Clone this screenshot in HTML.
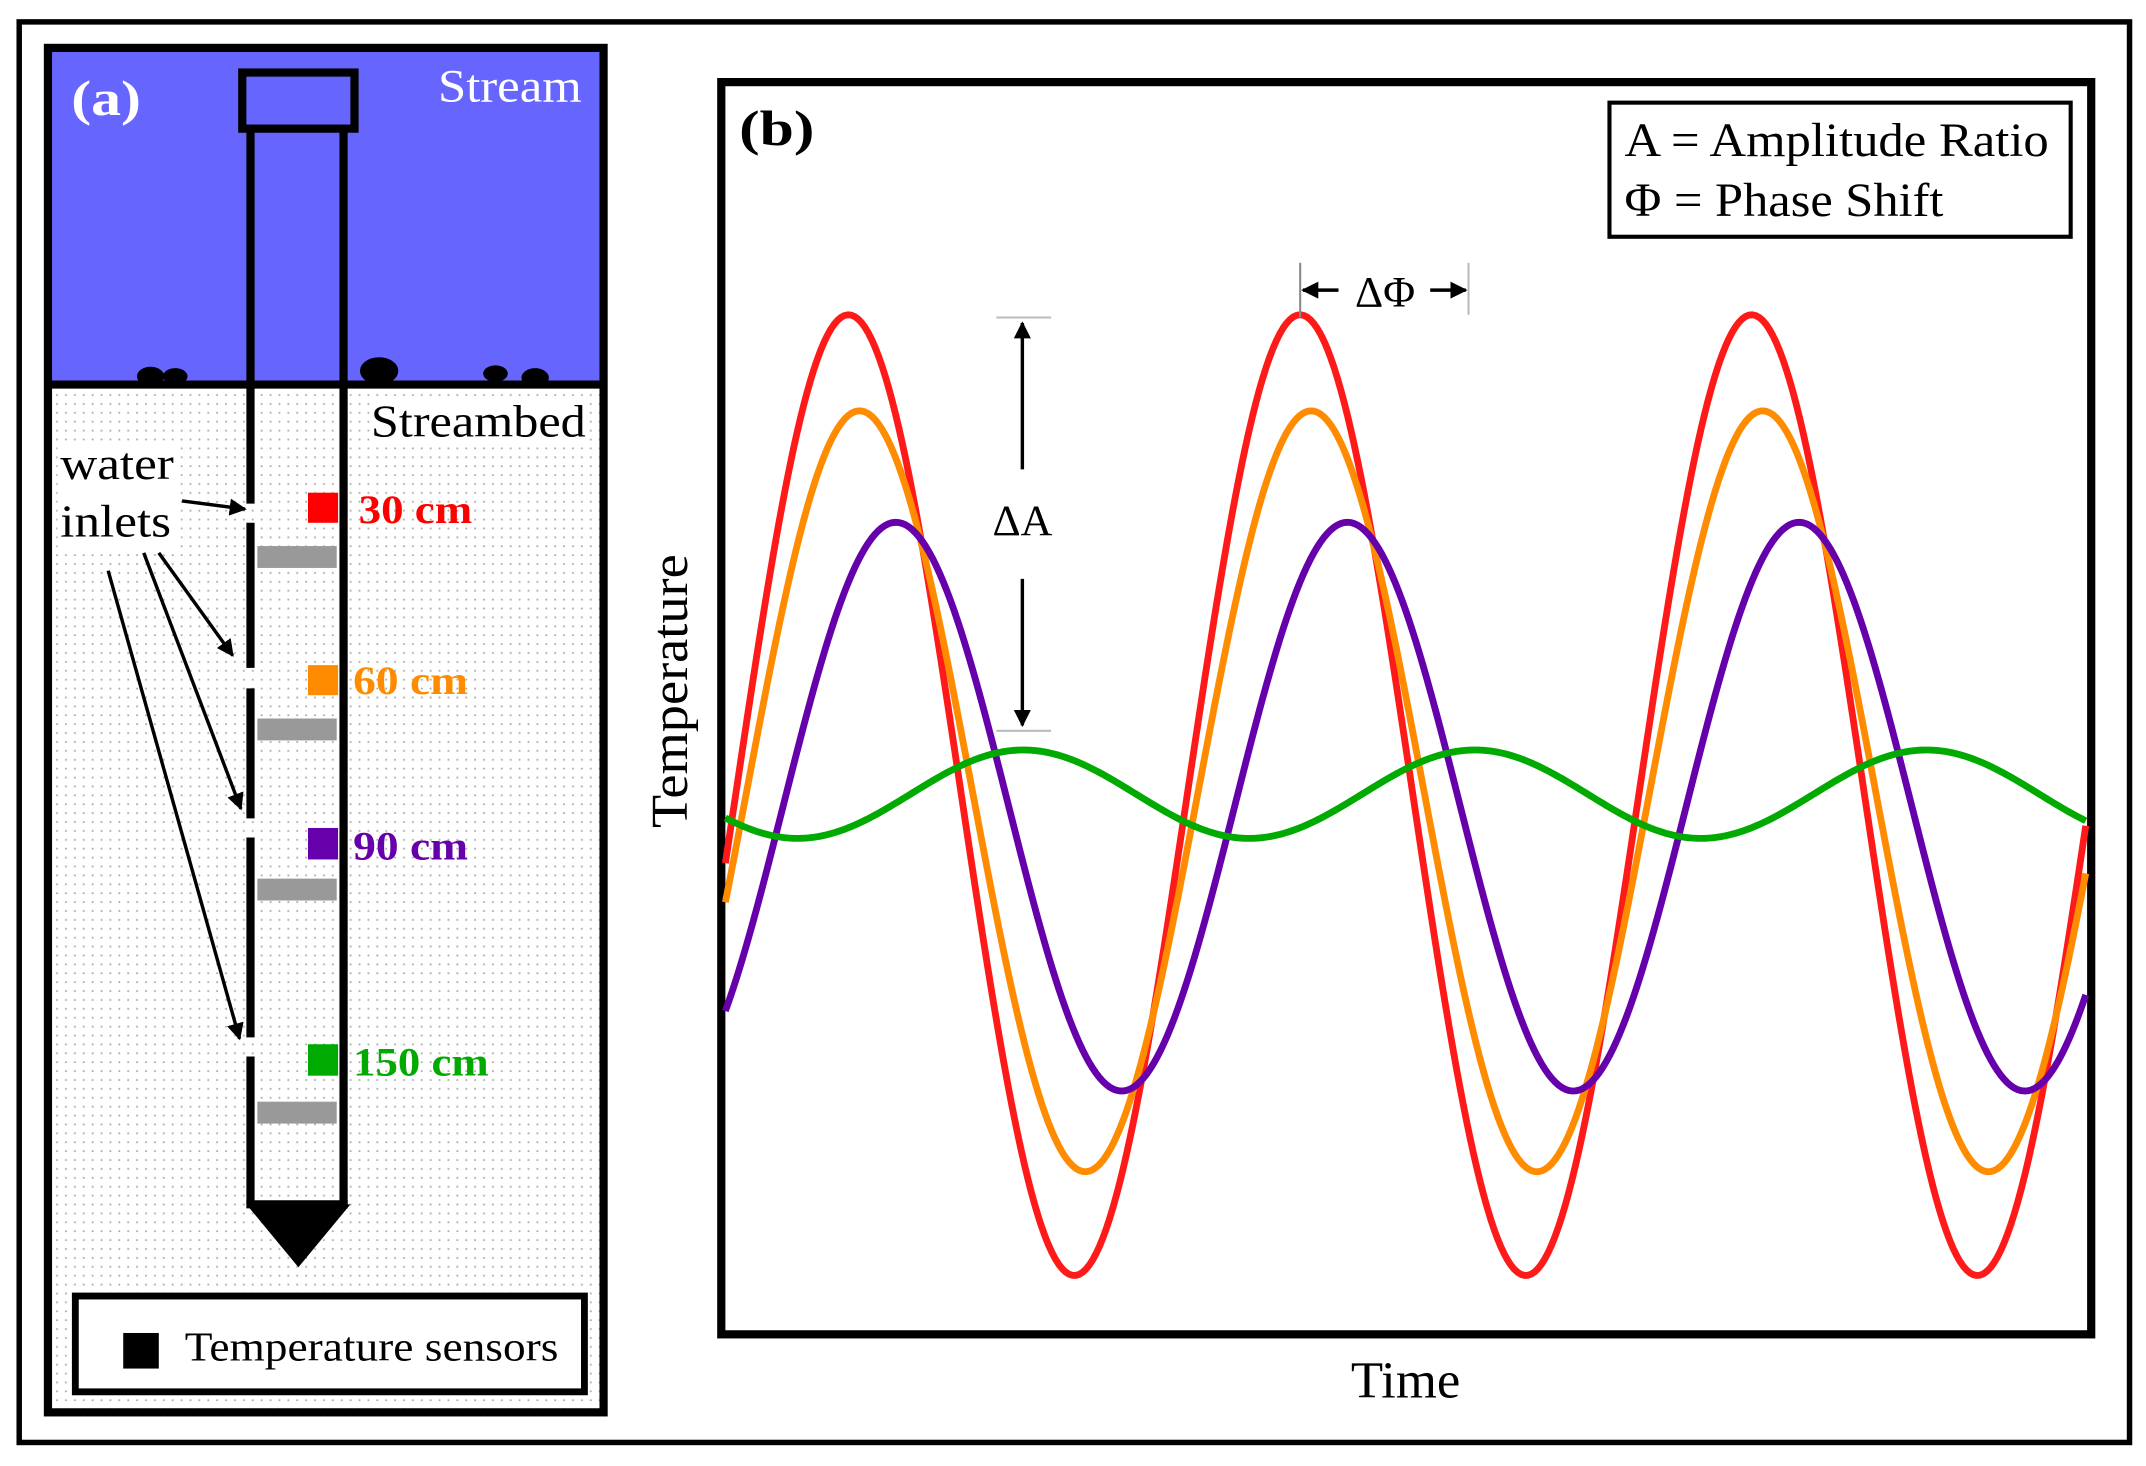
<!DOCTYPE html>
<html><head><meta charset="utf-8">
<style>
html,body{margin:0;padding:0;background:#fff;}
svg{display:block;}
text{font-family:"Liberation Serif",serif;}
</style></head>
<body>
<svg id="fig" width="2146" height="1466" viewBox="0 0 1568 1071.2" xmlns="http://www.w3.org/2000/svg">
<defs>
<pattern id="dots" width="6.5" height="6.5" patternUnits="userSpaceOnUse">
<rect width="6.5" height="6.5" fill="#fff"/>
<rect x="2" y="2" width="1.3" height="1.3" fill="#aaa"/>
</pattern>
<marker id="ah" viewBox="0 0 10 10" refX="9" refY="5" markerWidth="5" markerHeight="5" orient="auto-start-reverse"><path d="M0,0 L10,5 L0,10 z" fill="#000"/></marker>
</defs>
<rect x="0" y="0" width="1568" height="1072" fill="#fff"/>
<rect x="14" y="16" width="1542" height="1038" fill="none" stroke="#000" stroke-width="4"/>

<!-- Panel a -->
<g>
<rect x="35" y="281" width="406" height="751" fill="url(#dots)"/>
<rect x="35" y="35" width="406" height="246" fill="#6666FF"/>
<rect x="270" y="292" width="160" height="34" fill="#fff"/>
<rect x="42" y="322" width="90" height="78" fill="#fff"/>
<line x1="35" y1="281" x2="441" y2="281" stroke="#000" stroke-width="6"/>
<rect x="35" y="35" width="406" height="997" fill="none" stroke="#000" stroke-width="6"/>
<g fill="#000">
<ellipse cx="110" cy="275" rx="10" ry="7"/><ellipse cx="128" cy="275" rx="9" ry="6"/>
<ellipse cx="277" cy="271" rx="14" ry="10"/><ellipse cx="362" cy="273" rx="9" ry="6"/><ellipse cx="391" cy="276" rx="10" ry="7"/>
</g>
<text x="52" y="84" font-size="36" font-weight="bold" fill="#fff" textLength="51" lengthAdjust="spacingAndGlyphs">(a)</text>
<text x="320" y="74" font-size="34" fill="#fff" textLength="105" lengthAdjust="spacingAndGlyphs">Stream</text>
<text x="271" y="319" font-size="33" fill="#000" textLength="157" lengthAdjust="spacingAndGlyphs">Streambed</text>
<!-- piezometer -->
<g>
<rect x="177" y="53" width="82" height="41" fill="none" stroke="#000" stroke-width="6"/>
<line x1="251" y1="94" x2="251" y2="880" stroke="#000" stroke-width="6"/>
<path d="M183,94 V368 M183,382 V488 M183,503 V598 M183,612 V758 M183,772 V880" stroke="#000" stroke-width="6" fill="none"/>
<line x1="180" y1="880" x2="254" y2="880" stroke="#000" stroke-width="6"/>
<polygon points="180,880 256,880 218,926" fill="#000"/>
</g>
<g fill="#999">
<rect x="188" y="399" width="58" height="16"/><rect x="188" y="525" width="58" height="16"/>
<rect x="188" y="642" width="58" height="16"/><rect x="188" y="805" width="58" height="16"/>
</g>
<rect x="225" y="360" width="22" height="22" fill="#FF0000"/>
<rect x="225" y="486" width="22" height="22" fill="#FF8C00"/>
<rect x="225" y="605" width="22" height="23" fill="#6600AA"/>
<rect x="225" y="763" width="22" height="23" fill="#00AA00"/>
<text x="262" y="382" font-size="29" font-weight="bold" fill="#FF0000" textLength="83" lengthAdjust="spacingAndGlyphs">30 cm</text>
<text x="258" y="507" font-size="29" font-weight="bold" fill="#FF8C00" textLength="84" lengthAdjust="spacingAndGlyphs">60 cm</text>
<text x="258" y="628" font-size="29" font-weight="bold" fill="#6600AA" textLength="84" lengthAdjust="spacingAndGlyphs">90 cm</text>
<text x="258" y="786" font-size="29" font-weight="bold" fill="#00AA00" textLength="99" lengthAdjust="spacingAndGlyphs">150 cm</text>
<text x="44" y="350" font-size="33" fill="#000" textLength="83" lengthAdjust="spacingAndGlyphs">water</text>
<text x="44" y="392" font-size="33" fill="#000" textLength="81" lengthAdjust="spacingAndGlyphs">inlets</text>
<g stroke="#000" stroke-width="2.5" fill="none" marker-end="url(#ah)">
<line x1="133" y1="366" x2="179" y2="372"/>
<line x1="116" y1="404" x2="170" y2="479"/>
<line x1="105" y1="404" x2="176" y2="591"/>
<line x1="79" y1="417" x2="175" y2="759"/>
</g>
<g>
<rect x="55" y="947" width="372" height="70" fill="#fff" stroke="#000" stroke-width="5"/>
<rect x="90" y="974" width="26" height="26" fill="#000"/>
<text x="135" y="994" font-size="30" fill="#000" textLength="273" lengthAdjust="spacingAndGlyphs">Temperature sensors</text>
</g>
</g>

<!-- Panel b -->
<g>
<rect x="527" y="60" width="1001" height="915" fill="#fff" stroke="#000" stroke-width="6"/>
<g id="curves"></g>
<text x="540" y="106" font-size="36" font-weight="bold" fill="#000" textLength="55" lengthAdjust="spacingAndGlyphs">(b)</text>
<g>
<rect x="1176" y="75" width="337" height="98" fill="#fff" stroke="#000" stroke-width="3"/>
<text x="1187" y="114" font-size="35" fill="#000" textLength="310" lengthAdjust="spacingAndGlyphs">A = Amplitude Ratio</text>
<text x="1187" y="158" font-size="35" fill="#000" textLength="233" lengthAdjust="spacingAndGlyphs">Φ = Phase Shift</text>
</g>
<g>
<line x1="728" y1="232" x2="768" y2="232" stroke="#bbb" stroke-width="1.5"/>
<line x1="728" y1="534" x2="768" y2="534" stroke="#bbb" stroke-width="1.5"/>
<line x1="747" y1="343" x2="747" y2="236" stroke="#000" stroke-width="2.5" marker-end="url(#ah)"/>
<line x1="747" y1="423" x2="747" y2="530" stroke="#000" stroke-width="2.5" marker-end="url(#ah)"/>
<text x="747" y="391" font-size="32" text-anchor="middle" fill="#000">ΔA</text>
</g>
<g>
<line x1="950" y1="192" x2="950" y2="232" stroke="#888" stroke-width="1.5"/>
<line x1="1073" y1="192" x2="1073" y2="230" stroke="#bbb" stroke-width="1.5"/>
<line x1="978" y1="212" x2="952" y2="212" stroke="#000" stroke-width="2.5" marker-end="url(#ah)"/>
<line x1="1045" y1="212" x2="1071" y2="212" stroke="#000" stroke-width="2.5" marker-end="url(#ah)"/>
<text x="1012" y="224" font-size="32" text-anchor="middle" fill="#000">ΔΦ</text>
</g>
<text x="0" y="0" transform="translate(502,505) rotate(-90)" font-size="38" text-anchor="middle" fill="#000" textLength="200" lengthAdjust="spacingAndGlyphs">Temperature</text>
<text x="1027" y="1021" font-size="38" text-anchor="middle" fill="#000" textLength="80" lengthAdjust="spacingAndGlyphs">Time</text>
</g>

<script>
// data: depths and sinusoid parameters (time in hours, temperature in °C)
const depths = ["30 cm", "60 cm", "90 cm", "150 cm"];
const colors = ["#FF1A1A", "#FF8C00", "#6600AA", "#00AA00"];
const amplitudes = [5.0, 3.96, 2.96, 0.46];
const means = [15.0, 15.04, 14.88, 15.01];
const peakTimes = [6.57, 7.16, 9.1, 15.9];
const period = [24.1];
const timeDomain = [0, 72.6];
const tempDomain = [9, 21];

const X0 = 530, X1 = 1524, Y0 = 1002.2, Y1 = 159.8;
function xScale(t){ return X0 + (t - timeDomain[0]) / (timeDomain[1] - timeDomain[0]) * (X1 - X0); }
function yScale(v){ return Y0 + (v - tempDomain[0]) / (tempDomain[1] - tempDomain[0]) * (Y1 - Y0); }

const g = document.getElementById('curves');
const NS = "http://www.w3.org/2000/svg";
depths.forEach((d, i) => {
  let pts = [];
  const n = 400;
  for (let k = 0; k <= n; k++) {
    const t = timeDomain[0] + (timeDomain[1] - timeDomain[0]) * k / n;
    const v = means[i] + amplitudes[i] * Math.cos(2 * Math.PI * (t - peakTimes[i]) / period[0]);
    pts.push(xScale(t).toFixed(2) + "," + yScale(v).toFixed(2));
  }
  const p = document.createElementNS(NS, 'polyline');
  p.setAttribute('points', pts.join(' '));
  p.setAttribute('fill', 'none');
  p.setAttribute('stroke', colors[i]);
  p.setAttribute('stroke-width', '5');
  p.setAttribute('stroke-linejoin', 'round');
  
  
  g.appendChild(p);
});
</script>
</svg>
</body></html>
